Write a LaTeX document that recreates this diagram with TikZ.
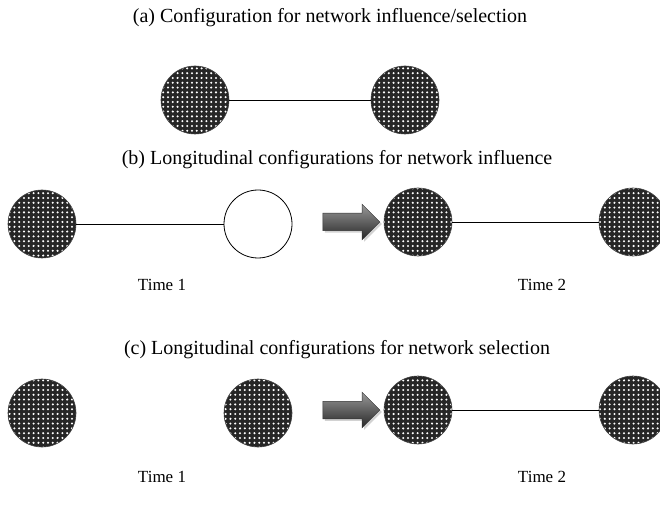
\documentclass[tikz,border=0pt]{standalone}
\usepackage{fontspec}
\setmainfont{Liberation Serif}
\usetikzlibrary{positioning,shapes.arrows,shadows,patterns.meta}

\begin{document}
\begin{tikzpicture}[
    x=1pt, y=-1pt,
    dotnode/.style={circle, draw=black!75, line width=0.6pt,
        preaction={fill=black!85},
        pattern={Dots[distance=4.8pt, radius=1.15pt]}, pattern color=white,
        minimum size=68pt, inner sep=0pt},
    hollow/.style={circle, draw=black, line width=0.8pt, fill=white,
        minimum size=68pt, inner sep=0pt},
    blockarrow/.style={single arrow, draw=black!80, line width=0.5pt,
        top color=black!40, bottom color=black!85,
        single arrow head extend=9pt, minimum height=57pt,
        inner xsep=0pt, inner ysep=8.5pt,
        drop shadow={shadow xshift=2pt, shadow yshift=-2pt, fill=black!35}},
    caption/.style={font=\fontsize{20}{24}\selectfont, inner sep=0pt},
    timelabel/.style={font=\fontsize{17}{20}\selectfont, inner sep=0pt},
    link/.style={draw=black, line width=0.6pt}
]
\useasboundingbox (0,0) rectangle (660,510);

% (a) influence/selection
\node[caption] (titleA) at (330,18) {(a) Configuration for network influence/selection};
\node[dotnode] (A1) at (195,100) {};
\node[dotnode] (A2) at (405,100) {};
\draw[link] (A1) -- (A2);

% (b) influence
\node[caption] (titleB) at (337,160) {(b) Longitudinal configurations for network influence};
\node[dotnode] (B1) at (42,224) {};
\node[hollow] (B2) at (258,224) {};
\node[blockarrow] (arrB) at (347,222) {};
\node[dotnode] (B3) at (418,222) {};
\node[dotnode] (B4) at (633,222) {};
\draw[link] (B1) -- (B2);
\draw[link] (B3) -- (B4);
\node[timelabel] (timeB1) at (162,285) {Time 1};
\node[timelabel] (timeB2) at (542,285) {Time 2};

% (c) selection
\node[caption] (titleC) at (337,350) {(c) Longitudinal configurations for network selection};
\node[dotnode] (C1) at (42,413) {};
\node[dotnode] (C2) at (258,413) {};
\node[blockarrow] (arrC) at (347,410) {};
\node[dotnode] (C3) at (418,410) {};
\node[dotnode] (C4) at (633,410) {};
\draw[link] (C3) -- (C4);
\node[timelabel] (timeC1) at (162,477) {Time 1};
\node[timelabel] (timeC2) at (542,477) {Time 2};
\end{tikzpicture}
\end{document}
